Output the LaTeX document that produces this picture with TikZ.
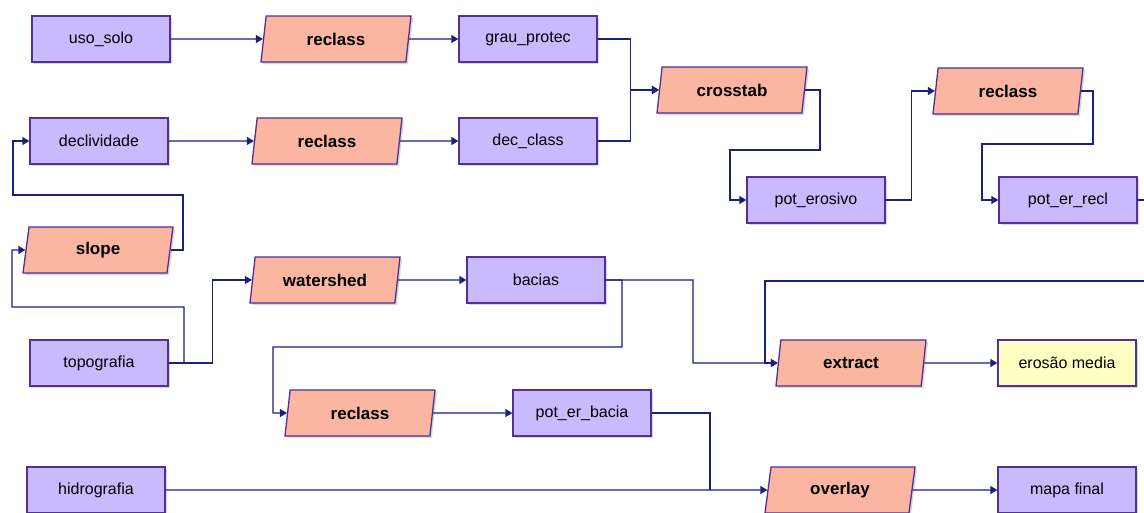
\documentclass[tikz,border=0pt]{standalone}
\usepackage{fontspec}
\setmainfont{Liberation Sans}
\usepackage{tikz}
\usetikzlibrary{arrows.meta,shapes.geometric,shadows}

\definecolor{boxfill}{RGB}{200,186,252}
\definecolor{opfill}{RGB}{250,182,160}
\definecolor{resfill}{RGB}{255,255,196}
\definecolor{edge}{RGB}{82,48,150}
\definecolor{wire}{RGB}{30,30,125}

\begin{document}
\begin{tikzpicture}[x=1pt,y=-1pt,
    layer/.style={draw=edge,line width=1.3pt,fill=boxfill,minimum width=138pt,
      minimum height=46pt,font=\fontsize{16}{18}\selectfont,
      drop shadow={shadow xshift=2pt,shadow yshift=-2pt,fill=black!30}},
    result/.style={layer,fill=resfill},
    oper/.style={trapezium,trapezium left angle=75,trapezium right angle=105,
      trapezium stretches body,draw=edge,line width=1.3pt,fill=opfill,
      minimum width=150pt,minimum height=46pt,
      font=\fontsize{17}{19}\selectfont\bfseries,
      drop shadow={shadow xshift=2pt,shadow yshift=-2pt,fill=black!30}},
    link/.style={draw=wire,line width=1.3pt,-{Triangle[length=7pt,width=8pt]}},
    wire/.style={draw=wire,line width=1.3pt}]
       \clip (0,0) rectangle (1144,512);
       \fill[white] (0,0) rectangle (1144,512);
       % layers and operations
       \node[layer] (usosolo) at (101,39) {uso\_solo};
       \node[oper] (rcA) at (336,39) {reclass};
       \node[layer] (grau) at (528,39) {grau\_protec};
       \node[layer] (decliv) at (99,141) {declividade};
       \node[oper] (rcB) at (327,141) {reclass};
       \node[layer] (decclass) at (528,141) {dec\_class};
       \node[oper] (crosstab) at (732,90) {crosstab};
       \node[layer] (poteros) at (816,200) {pot\_erosivo};
       \node[oper] (rcC) at (1008,91) {reclass};
       \node[layer] (potrecl) at (1068,200) {pot\_er\_recl};
       \node[oper] (slope) at (98,250) {slope};
       \node[oper] (watershed) at (325,280) {watershed};
       \node[layer] (bacias) at (536,280) {bacias};
       \node[layer] (topo) at (99,363) {topografia};
       \node[oper] (extract) at (851,363) {extract};
       \node[result] (erosao) at (1067,363) {erosão media};
       \node[oper] (rcD) at (360,413) {reclass};
       \node[layer] (potbacia) at (582,413) {pot\_er\_bacia};
       \node[layer] (hidro) at (96,490) {hidrografia};
       \node[oper] (overlay) at (840,490) {overlay};
       \node[layer] (mapa) at (1067,490) {mapa final};
       % connectors
       \draw[link] (usosolo.east) -- (rcA.west);
       \draw[link] (rcA.east) -- (grau.west);
       \draw[link] (decliv.east) -- (rcB.west);
       \draw[link] (rcB.east) -- (decclass.west);
       \draw[link] (grau.east) -- ++(33,0) |- (crosstab.west);
       \draw[link] (decclass.east) -- ++(33,0) |- (crosstab.west);
       \draw[link] (crosstab.east) -| (820,150) -| (730,200) -- (poteros.west);
       \draw[link] (poteros.east) -- ++(26,0) |- (rcC.west);
       \draw[link] (rcC.east) -| (1093,144) -| (982,200) -- (potrecl.west);
       \draw[link] (potrecl.east) -- ++(30,0) |- (765,281) |- (extract.west);
       \draw[link] (slope.east) -| (183,195) -| (13,141) -- (decliv.west);
       \draw[link] (topo.east) -| (184,307) -| (12,250) -- (slope.west);
       \draw[link] (topo.east) -- ++(44,0) |- (watershed.west);
       \draw[link] (watershed.east) -- (bacias.west);
       \draw[link] (bacias.east) -| (622,347) -| (273,413) -- (rcD.west);
       \draw[link] (bacias.east) -| (693,363) -- (extract.west);
       \draw[link] (extract.east) -- (erosao.west);
       \draw[link] (rcD.east) -- (potbacia.west);
       \draw[wire] (potbacia.east) -| (710,490);
       \draw[link] (hidro.east) -- (overlay.west);
       \draw[link] (overlay.east) -- (mapa.west);
      \end{tikzpicture}
\end{document}
